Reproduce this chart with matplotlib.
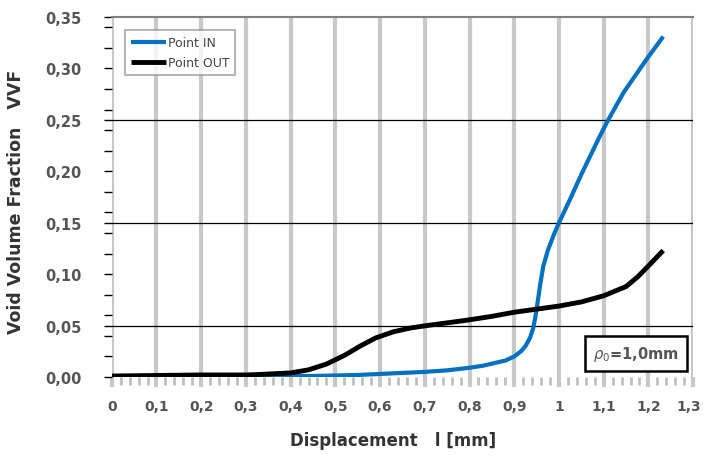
import matplotlib
matplotlib.use("Agg")
import matplotlib.pyplot as plt
import matplotlib.transforms as mtransforms
from matplotlib.ticker import MultipleLocator, FixedLocator

plt.rcParams['font.family'] = ['DejaVu Sans']
plt.rcParams['mathtext.fontset'] = 'dejavusans'

# Point IN (blue)
in_x = [0, 0.1, 0.2, 0.3, 0.4, 0.45, 0.5, 0.55, 0.6, 0.65, 0.7, 0.75, 0.8, 0.83,
        0.86, 0.88, 0.9, 0.915, 0.925, 0.935, 0.942, 0.947, 0.952, 0.958, 0.965,
        0.975, 0.99, 1.0, 1.025, 1.05, 1.09, 1.11, 1.145, 1.196, 1.233]
in_y = [0.0, 0.0, 0.0, 0.0005, 0.001, 0.001, 0.0015, 0.002, 0.003, 0.004, 0.005,
        0.0065, 0.009, 0.011, 0.014, 0.016, 0.020, 0.025, 0.030, 0.038, 0.047,
        0.058, 0.072, 0.090, 0.108, 0.123, 0.140, 0.150, 0.173, 0.197, 0.233,
        0.250, 0.277, 0.309, 0.331]

# Point OUT (black)
out_x = [0, 0.1, 0.2, 0.3, 0.33, 0.4, 0.44, 0.48, 0.52, 0.555, 0.59, 0.63, 0.667,
         0.704, 0.79, 0.85, 0.9, 0.95, 1.0, 1.05, 1.1, 1.15, 1.175, 1.2, 1.233]
out_y = [0.001, 0.0015, 0.002, 0.002, 0.0025, 0.004, 0.007, 0.0126, 0.021, 0.030,
         0.038, 0.044, 0.0476, 0.050, 0.055, 0.059, 0.063, 0.066, 0.069, 0.073,
         0.079, 0.088, 0.097, 0.108, 0.123]

x_ticks = [0, 0.1, 0.2, 0.3, 0.4, 0.5, 0.6, 0.7, 0.8, 0.9, 1.0, 1.1, 1.2, 1.3]
x_labels = ['0', '0,1', '0,2', '0,3', '0,4', '0,5', '0,6', '0,7', '0,8', '0,9',
            '1', '1,1', '1,2', '1,3']
y_ticks = [0, 0.05, 0.10, 0.15, 0.20, 0.25, 0.30, 0.35]
y_labels = ['0,00', '0,05', '0,10', '0,15', '0,20', '0,25', '0,30', '0,35']
h_lines = [0.05, 0.15, 0.25]

fig = plt.figure(figsize=(7.03, 4.56), dpi=100)
ax = fig.add_axes([0.159, 0.171, 0.827, 0.7895])
ax.set_xlim(0, 1.3)
ax.set_ylim(0, 0.35)

for s in ['left', 'right', 'bottom']:
    ax.spines[s].set_visible(False)
ax.spines['top'].set_color('#808080')
ax.spines['top'].set_linewidth(1.5)

# vertical gray grid
for xv in x_ticks:
    ax.axvline(xv, color='#c8c8c8', lw=3, zorder=1)
for yv in h_lines:
    ax.axhline(yv, color='black', lw=0.9, zorder=1)

ax.plot(in_x, in_y, color='#0070c0', lw=3, label='Point IN', zorder=3,
        solid_capstyle='butt', solid_joinstyle='round')
ax.plot(out_x, out_y, color='black', lw=3.5, label='Point OUT', zorder=4,
        solid_capstyle='butt', solid_joinstyle='round')

ax.xaxis.set_major_locator(FixedLocator(x_ticks))
ax.set_xticklabels(x_labels)
ax.xaxis.set_minor_locator(MultipleLocator(0.02))
ax.tick_params(axis='x', which='major', length=7, width=3, color='#c8c8c8',
               pad=9, labelsize=10, labelcolor='#555555')
ax.tick_params(axis='x', which='minor', length=6, width=2, color='#c0c0c0')

ax.yaxis.set_major_locator(FixedLocator(y_ticks))
ax.set_yticklabels(y_labels)
ax.yaxis.set_minor_locator(MultipleLocator(0.02))
ax.tick_params(axis='y', which='major', length=6, width=1, color='black',
               pad=16, labelsize=10.5, labelcolor='#555555')
ax.tick_params(axis='y', which='minor', length=6, width=1, color='black')
for lab in ax.get_xticklabels() + ax.get_yticklabels():
    lab.set_fontweight('bold')
last = ax.get_xticklabels()[-1]
last.set_transform(last.get_transform() +
                   mtransforms.ScaledTranslation(-4 / 100, 0, fig.dpi_scale_trans))

ax.set_xlabel('Displacement   l [mm]', fontsize=12, fontweight='bold',
              color='#333333')
ax.xaxis.set_label_coords(0.484, -0.15)
ax.set_ylabel('Void Volume Fraction   VVF', fontsize=12.5, fontweight='bold',
              color='#333333')
ax.yaxis.set_label_coords(-0.15, 0.489)

leg = ax.legend(loc='upper left', bbox_to_anchor=(0.012, 0.98), fontsize=9,
                frameon=True, fancybox=False, handlelength=2.8,
                handletextpad=0.2, borderpad=0.45, labelspacing=0.55)
leg.get_frame().set_edgecolor('#909090')
leg.get_frame().set_linewidth(1.2)
for t in leg.get_texts():
    t.set_color('#444444')

ax.text(1.268, 0.0233, r'$\rho_0$=1,0mm', ha='right', va='center', fontsize=10.5,
        fontweight='bold', color='#555555', zorder=5,
        bbox=dict(boxstyle='square,pad=0.55', fc='white', ec='black', lw=1.8))

fig.savefig('out.png', dpi=100)
